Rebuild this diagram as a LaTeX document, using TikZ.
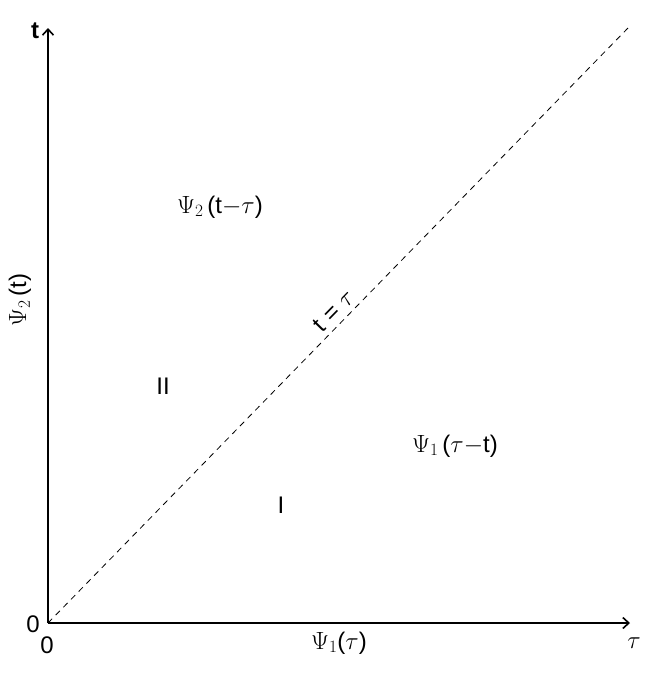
\documentclass[tikz,border=0pt]{standalone}
\usepackage{fontspec}
\setmainfont{Liberation Sans}
\usetikzlibrary{arrows.meta}
\tikzset{
  axis/.style={line width=1.3pt,-{Straight Barb[length=6pt,width=11pt,line width=1.6pt]}},
  diag/.style={line width=0.8pt,dash pattern=on 6pt off 5pt},
  lbl/.style={font=\fontsize{24}{28}\selectfont,inner sep=0pt}
}
\begin{document}
\begin{tikzpicture}[x=1pt,y=-1pt]
\useasboundingbox (0,0) rectangle (654,673);
\coordinate (o) at (48,623);
\coordinate (ttop) at (48,28);
\coordinate (tauend) at (630,623);
\coordinate (dend) at (628,28);
\draw[axis] (o) -- (ttop);
\draw[axis] (o) -- (tauend);
\draw[diag] (o) -- (dend);
\node[lbl] (tl) at (35,31) {\bfseries t};
\node[lbl] (z1) at (33,624) {0};
\node[lbl] (z2) at (47,645) {0};
\node[lbl] (taul) at (634,643) {$\tau$};
\node[lbl] (p2a) at (220,207) {$\Psi_2$\,(t$-\tau$)};
\node[lbl,rotate=45.7] (eq) at (334,311) {t = $\tau$};
\node[lbl] (two) at (163,386) {II};
\node[lbl] (p1a) at (455,446) {$\Psi_1$\,($\tau$$-$t)};
\node[lbl] (one) at (281,505) {I};
\node[lbl] (p1b) at (339,643) {$\Psi_1$($\tau$)};
\node[lbl,rotate=90] (p2b) at (20,300) {$\Psi_2$\,(t)};
\end{tikzpicture}
\end{document}
